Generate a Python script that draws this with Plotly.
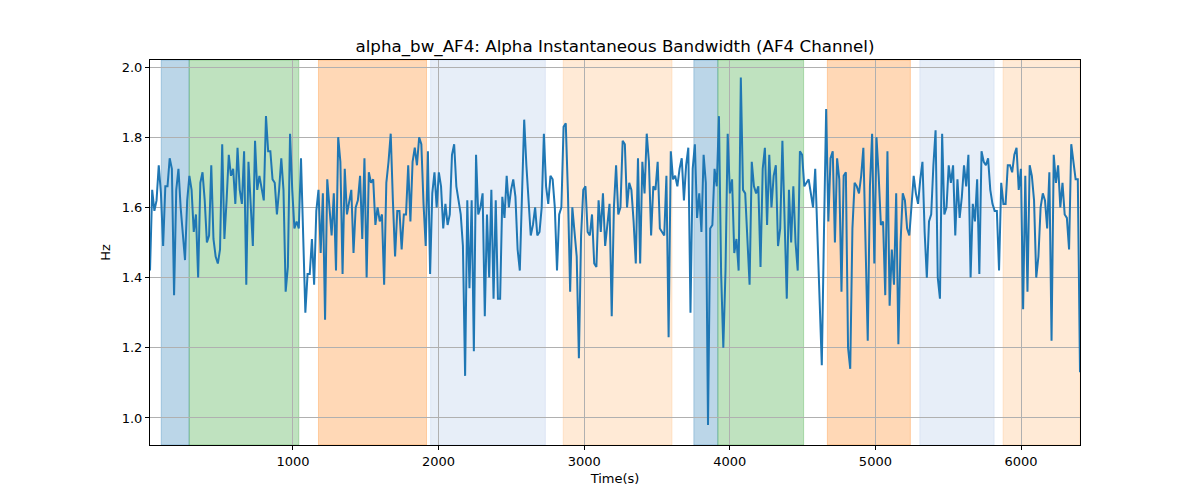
import plotly.graph_objects as go

t_start = 18
t_end = 6405

values = [
    # segment 1
    1.42,1.65,1.59,1.62,1.72,1.64,1.49,1.66,1.66,1.74,1.71,1.35,1.65,1.71,1.60,1.51,1.45,1.62,1.69,1.65,
    1.53,1.58,1.40,1.67,1.70,1.62,1.50,1.52,1.72,1.51,1.46,1.44,1.48,1.78,1.51,1.62,1.75,1.69,1.71,1.61,
    1.77,1.65,1.61,1.76,1.38,1.73,1.60,1.49,1.79,1.65,1.69,
    # segment 2
    1.66,1.62,1.86,1.76,1.76,1.68,1.67,1.58,1.65,1.74,1.65,1.36,1.43,1.81,1.65,1.54,1.56,1.54,1.74,1.53,
    1.30,1.41,1.41,1.51,1.38,1.59,1.65,1.47,1.64,1.28,1.68,1.60,1.52,1.64,1.42,1.80,1.73,1.41,1.71,1.58,
    1.61,1.65,1.47,1.60,1.62,1.69,1.51,1.74,1.40,1.70,1.67,1.68,1.55,
    # segment 3
    1.60,1.56,1.58,1.38,1.67,1.73,1.81,1.62,1.46,1.59,1.59,1.48,1.58,1.58,1.72,1.56,1.73,1.77,1.72,1.80,
    1.78,1.61,1.49,1.76,1.41,1.64,1.70,1.60,1.70,1.66,1.54,1.61,1.55,1.58,1.75,1.78,1.66,1.62,1.58,1.49,
    1.12,1.62,1.37,1.62,1.19,1.75,1.58,1.60,1.64,
    # segment 4
    1.29,1.58,1.40,1.65,1.34,1.62,1.34,1.34,1.63,1.57,1.69,1.60,1.65,1.68,1.63,1.48,1.42,1.65,1.85,1.72,
    1.60,1.52,1.55,1.60,1.52,1.53,1.60,1.81,1.66,1.61,1.69,1.68,1.60,1.42,1.58,1.60,1.83,1.84,1.64,1.36,
    1.60,1.53,1.46,1.17,1.52,1.65,1.66,1.53,1.52,1.58,1.44,1.43,1.62,
    # segment 5
    1.53,1.64,1.49,1.55,1.61,1.29,1.60,1.72,1.58,1.60,1.79,1.78,1.60,1.67,1.65,1.56,1.44,1.74,1.44,1.73,
    1.64,1.81,1.73,1.52,1.66,1.65,1.73,1.54,1.53,1.52,1.69,1.23,1.76,1.68,1.69,1.66,1.71,1.74,1.62,1.72,
    1.77,1.30,1.71,1.78,1.57,1.64,1.53,1.75,1.67,0.98,1.54,1.55,
    # segment 6
    1.71,1.66,1.86,1.41,1.20,1.42,1.81,1.64,1.68,1.47,1.51,1.42,1.97,1.65,1.64,1.49,1.38,1.73,1.66,1.64,
    1.66,1.43,1.71,1.77,1.55,1.75,1.60,1.69,1.72,1.49,1.54,1.79,1.53,1.34,1.65,1.50,1.66,1.50,1.42,1.76,
    1.75,1.66,1.67,1.68,1.64,1.60,1.71,1.54,1.35,1.15,1.53,1.88,1.56,
    # segment 7
    1.74,1.76,1.50,1.74,1.68,1.36,1.69,1.70,1.20,1.14,1.54,1.67,1.66,1.64,1.69,1.77,1.51,1.22,1.66,1.81,
    1.44,1.80,1.69,1.55,1.56,1.35,1.76,1.32,1.48,1.38,1.64,1.21,1.50,1.64,1.62,1.54,1.52,1.62,1.69,1.64,
    1.61,1.68,1.73,1.53,1.40,1.56,1.58,1.72,1.82,1.40,1.34,1.81,1.58,
    # segment 8
    1.60,1.72,1.67,1.72,1.52,1.68,1.57,1.63,1.72,1.66,1.75,1.40,1.61,1.56,1.68,1.41,1.76,1.73,1.72,1.74,
    1.65,1.61,1.59,1.59,1.42,1.67,1.61,1.61,1.72,1.72,1.70,1.75,1.77,1.65,1.71,1.31,1.69,1.36,1.72,1.69,
    1.62,1.40,1.46,1.60,1.64,1.62,1.54,1.70,1.22,1.75,1.67,1.72,1.60,1.67,1.58,1.57,1.48,1.78,1.73,1.68,
    1.68,1.13,
]

n = len(values)
times = [t_start + (t_end - t_start) * i / (n - 1) for i in range(n)]

# shaded segments: (start, end, base colour)
band_starts = [95, 287, 1175, 1945, 2856, 3753, 3918, 4670, 5305, 5877]
band_ends = [287, 1040, 1917, 2733, 3603, 3918, 4507, 5240, 5815, 6405]
band_colors = ["31,119,180", "44,160,44", "255,127,14", "174,199,232", "255,187,120",
               "31,119,180", "44,160,44", "255,127,14", "174,199,232", "255,187,120"]

fig = go.Figure()
fig.add_trace(go.Scatter(x=times, y=values, mode="lines",
                         line=dict(color="#1f77b4", width=2), showlegend=False))

for s, e, c in zip(band_starts, band_ends, band_colors):
    fig.add_shape(type="rect", xref="x", yref="paper", x0=s, x1=e, y0=0, y1=1,
                  fillcolor=f"rgba({c},0.3)", line=dict(width=1, color=f"rgba({c},0.3)"),
                  layer="below")

font_family = "DejaVu Sans, sans-serif"
fig.update_layout(
    width=1200, height=500,
    margin=dict(l=150, r=120, t=60, b=55),
    plot_bgcolor="white", paper_bgcolor="white",
    font=dict(family=font_family, size=13, color="black"),
    title=dict(text="alpha_bw_AF4: Alpha Instantaneous Bandwidth (AF4 Channel)",
               x=0.5, xref="paper", xanchor="center", y=1 - 46 / 500, yanchor="middle",
               font=dict(size=16.7, family=font_family, color="black")),
)
fig.update_xaxes(range=[t_start, t_end], tickvals=[1000, 2000, 3000, 4000, 5000, 6000],
                 showgrid=True, gridcolor="#b0b0b0", gridwidth=1,
                 showline=True, linecolor="black", linewidth=1, mirror=True,
                 ticks="outside", ticklen=4, tickcolor="black", zeroline=False,
                 title=dict(text="Time(s)", font=dict(size=13), standoff=6))
fig.update_yaxes(range=[0.923, 2.02], tickvals=[1.0, 1.2, 1.4, 1.6, 1.8, 2.0], tickformat=".1f",
                 showgrid=True, gridcolor="#b0b0b0", gridwidth=1,
                 showline=True, linecolor="black", linewidth=1, mirror=True,
                 ticks="outside", ticklen=4, tickcolor="black", zeroline=False,
                 title=dict(text="Hz", font=dict(size=13), standoff=8))

fig.write_html("out.html")
